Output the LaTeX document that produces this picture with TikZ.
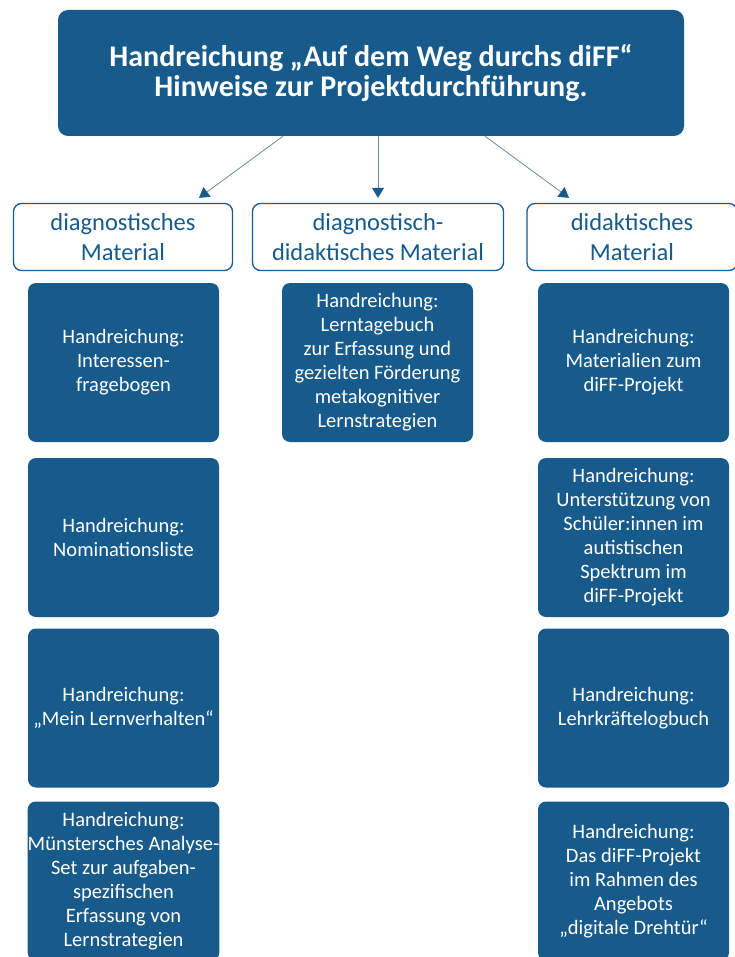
\documentclass[tikz,border=0pt]{standalone}
\usepackage{fontspec}
\setmainfont{Carlito}
\usetikzlibrary{arrows.meta}
\definecolor{dblue}{HTML}{175A8C}
\definecolor{lineblue}{HTML}{6A8AA6}
\begin{document}
\begin{tikzpicture}[x=1pt,y=-1pt,
  topbox/.style={fill=dblue,draw=none,rounded corners=10pt,minimum width=626pt,minimum height=126pt,
     text=white,align=center,font=\fontsize{30}{33}\selectfont\bfseries,inner sep=0pt},
  catbox/.style={fill=white,draw=dblue,line width=1.3pt,rounded corners=8pt,minimum height=67pt,
     text=dblue,align=center,font=\fontsize{24.5}{30}\selectfont,inner sep=0pt},
  matbox/.style={fill=dblue,draw=none,rounded corners=8pt,minimum width=191pt,minimum height=159pt,
     text=white,align=center,font=\fontsize{20.5}{24}\selectfont,inner sep=0pt},
  conn/.style={draw=lineblue,line width=0.8pt,-{Triangle[width=12pt,length=10pt,color=dblue]}}
]
\useasboundingbox (0,0) rectangle (734,957);
\node[topbox] (top) at (371,73) {Handreichung „Auf dem Weg durchs diFF“\\[-3pt]Hinweise zur Projektdurchführung.};
\node[catbox,minimum width=219pt] (cl) at (123,237) {diagnostisches\\Material};
\node[catbox,minimum width=251pt] (cm) at (378,237) {diagnostisch-\\didaktisches Material};
\node[catbox,minimum width=210pt] (cr) at (632,237) {didaktisches\\Material};

\draw[conn] ([xshift=-88pt]top.south) -- ([xshift=76pt,yshift=5pt]cl.north);
\draw[conn] ([xshift=7pt]top.south) -- ([yshift=5pt]cm.north);
\draw[conn] ([xshift=114pt]top.south) -- ([xshift=-63pt,yshift=5pt]cr.north);

\node[matbox] (l1) at (123.5,362.5) {Handreichung:\\Interessen-\\fragebogen};
\node[matbox] (l2) at (123.5,537.5) {Handreichung:\\Nominationsliste};
\node[matbox] (l3) at (123.5,708) {Handreichung:\\„Mein Lernverhalten“};
\node[matbox] (l4) at (123.5,881) {Handreichung:\\Münstersches Analyse-\\Set zur aufgaben-\\spezifischen\\Erfassung von\\Lernstrategien};

\node[matbox] (m1) at (377.5,362.5) {Handreichung:\\Lerntagebuch\\zur Erfassung und\\gezielten Förderung\\metakognitiver\\Lernstrategien};

\node[matbox] (r1) at (633.5,362.5) {Handreichung:\\Materialien zum\\diFF-Projekt};
\node[matbox] (r2) at (633.5,537.5) {Handreichung:\\Unterstützung von\\Schüler:innen im\\autistischen\\Spektrum im\\diFF-Projekt};
\node[matbox] (r3) at (633.5,708) {Handreichung:\\Lehrkräftelogbuch};
\node[matbox] (r4) at (633.5,881) {Handreichung:\\Das diFF-Projekt\\im Rahmen des\\Angebots\\„digitale Drehtür“};
\end{tikzpicture}
\end{document}
